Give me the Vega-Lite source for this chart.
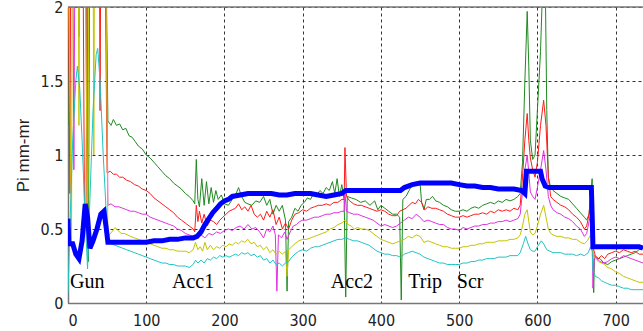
{
  "$schema": "https://vega.github.io/schema/vega-lite/v6.json",
  "width": 575,
  "height": 296,
  "autosize": {"type": "none"},
  "padding": {"left": 68, "top": 7, "right": 0, "bottom": 28},
  "background": "white",
  "config": {
    "view": {"stroke": null},
    "axis": {
      "labelFont": "Liberation Sans Narrow, DejaVu Sans Condensed, Liberation Sans, Arial",
      "labelFontSize": 16,
      "labelColor": "#222",
      "ticks": false,
      "domainColor": "#777",
      "domainWidth": 1.5,
      "gridColor": "#111",
      "gridDash": [3, 3],
      "gridWidth": 1,
      "gridOpacity": 0.85,
      "titleFont": "Liberation Sans, Arial",
      "titleFontWeight": "normal",
      "titleFontSize": 17,
      "titleColor": "#222"
    }
  },
  "datasets": {
    "green": [
      {"x":0,"y":1.2},{"x":0.8,"y":2.6},{"x":13,"y":2.6},{"x":14,"y":1.8},{"x":15,"y":2.6},{"x":23,"y":2.6},{"x":26,"y":0.28},{"x":28,"y":2.6},{"x":48,"y":2.6},{"x":51,"y":1.23},{"x":55,"y":1.2},{"x":58,"y":1.24},{"x":62,"y":1.2},{"x":66,"y":1.21},{"x":70,"y":1.17},{"x":74,"y":1.18},{"x":78,"y":1.13},{"x":82,"y":1.12},{"x":86,"y":1.09},{"x":90,"y":1.06},{"x":95,"y":1.04},{"x":100,"y":1.0},{"x":105,"y":0.98},{"x":110,"y":0.95},{"x":115,"y":0.92},{"x":120,"y":0.89},{"x":125,"y":0.86},{"x":130,"y":0.84},{"x":135,"y":0.81},{"x":140,"y":0.79},{"x":145,"y":0.77},{"x":150,"y":0.74},{"x":155,"y":0.72},{"x":160,"y":0.69},{"x":162,"y":0.67},{"x":164,"y":0.97},{"x":166,"y":0.7},{"x":168,"y":0.65},{"x":171,"y":0.84},{"x":174,"y":0.66},{"x":177,"y":0.82},{"x":180,"y":0.67},{"x":183,"y":0.78},{"x":186,"y":0.68},{"x":189,"y":0.76},{"x":192,"y":0.7},{"x":196,"y":0.73},{"x":200,"y":0.67},{"x":205,"y":0.66},{"x":210,"y":0.7},{"x":215,"y":0.74},{"x":218,"y":0.78},{"x":222,"y":0.72},{"x":226,"y":0.68},{"x":230,"y":0.67},{"x":235,"y":0.66},{"x":240,"y":0.69},{"x":245,"y":0.68},{"x":250,"y":0.72},{"x":254,"y":0.66},{"x":258,"y":0.7},{"x":262,"y":0.6},{"x":266,"y":0.66},{"x":270,"y":0.62},{"x":274,"y":0.66},{"x":278,"y":0.56},{"x":280,"y":0.08},{"x":282,"y":0.55},{"x":286,"y":0.58},{"x":290,"y":0.64},{"x":294,"y":0.62},{"x":298,"y":0.66},{"x":302,"y":0.68},{"x":306,"y":0.71},{"x":310,"y":0.7},{"x":314,"y":0.74},{"x":318,"y":0.73},{"x":322,"y":0.76},{"x":326,"y":0.74},{"x":330,"y":0.78},{"x":334,"y":0.76},{"x":338,"y":0.82},{"x":341,"y":0.74},{"x":344,"y":0.84},{"x":347,"y":0.72},{"x":350,"y":0.8},{"x":353,"y":0.7},{"x":355,"y":0.04},{"x":357,"y":0.72},{"x":362,"y":0.71},{"x":368,"y":0.7},{"x":374,"y":0.68},{"x":380,"y":0.69},{"x":386,"y":0.66},{"x":392,"y":0.69},{"x":396,"y":0.63},{"x":400,"y":0.66},{"x":405,"y":0.64},{"x":410,"y":0.62},{"x":415,"y":0.6},{"x":420,"y":0.6},{"x":424,"y":0.58},{"x":426,"y":0.02},{"x":428,"y":0.7},{"x":432,"y":0.72},{"x":436,"y":0.76},{"x":440,"y":0.8},{"x":446,"y":0.81},{"x":450,"y":0.81},{"x":452,"y":0.68},{"x":455,"y":0.63},{"x":458,"y":0.7},{"x":462,"y":0.7},{"x":466,"y":0.72},{"x":470,"y":0.69},{"x":475,"y":0.68},{"x":480,"y":0.66},{"x":485,"y":0.65},{"x":490,"y":0.63},{"x":495,"y":0.62},{"x":500,"y":0.62},{"x":505,"y":0.63},{"x":510,"y":0.62},{"x":515,"y":0.64},{"x":520,"y":0.65},{"x":525,"y":0.64},{"x":530,"y":0.66},{"x":535,"y":0.67},{"x":540,"y":0.68},{"x":545,"y":0.67},{"x":550,"y":0.69},{"x":555,"y":0.68},{"x":560,"y":0.7},{"x":565,"y":0.69},{"x":570,"y":0.7},{"x":575,"y":0.72},{"x":578,"y":0.74},{"x":581,"y":0.95},{"x":584,"y":1.5},{"x":587,"y":1.97},{"x":589,"y":1.6},{"x":591,"y":1.1},{"x":594,"y":0.97},{"x":597,"y":1.0},{"x":600,"y":1.3},{"x":604,"y":1.7},{"x":607,"y":2.2},{"x":610,"y":2.2},{"x":612,"y":1.3},{"x":614,"y":0.85},{"x":617,"y":0.78},{"x":620,"y":0.76},{"x":625,"y":0.74},{"x":630,"y":0.72},{"x":635,"y":0.71},{"x":640,"y":0.7},{"x":645,"y":0.67},{"x":650,"y":0.64},{"x":655,"y":0.61},{"x":660,"y":0.58},{"x":663,"y":0.56},{"x":666,"y":0.6},{"x":668,"y":0.72},{"x":670,"y":0.84},{"x":671,"y":0.3},{"x":672,"y":0.07},{"x":673,"y":0.32},{"x":676,"y":0.3},{"x":680,"y":0.3},{"x":685,"y":0.27},{"x":690,"y":0.26},{"x":695,"y":0.28},{"x":700,"y":0.29},{"x":705,"y":0.3},{"x":710,"y":0.31},{"x":715,"y":0.32},{"x":720,"y":0.33},{"x":725,"y":0.34},{"x":730,"y":0.36},{"x":735,"y":0.37}
    ],
    "red": [
      {"x":0,"y":2.6},{"x":2.5,"y":0.74},{"x":3.5,"y":2.6},{"x":19,"y":2.6},{"x":21,"y":0.66},{"x":23,"y":0.6},{"x":25,"y":2.6},{"x":40,"y":2.6},{"x":41,"y":1.3},{"x":42,"y":2.6},{"x":47,"y":2.6},{"x":50,"y":0.88},{"x":54,"y":0.89},{"x":58,"y":0.87},{"x":62,"y":0.87},{"x":66,"y":0.85},{"x":70,"y":0.85},{"x":75,"y":0.83},{"x":80,"y":0.82},{"x":85,"y":0.8},{"x":90,"y":0.79},{"x":95,"y":0.77},{"x":100,"y":0.76},{"x":105,"y":0.74},{"x":110,"y":0.71},{"x":115,"y":0.69},{"x":120,"y":0.67},{"x":125,"y":0.65},{"x":130,"y":0.63},{"x":135,"y":0.61},{"x":140,"y":0.58},{"x":145,"y":0.56},{"x":150,"y":0.54},{"x":155,"y":0.52},{"x":160,"y":0.5},{"x":162,"y":0.48},{"x":164,"y":0.66},{"x":166,"y":0.55},{"x":168,"y":0.62},{"x":171,"y":0.54},{"x":174,"y":0.6},{"x":178,"y":0.52},{"x":182,"y":0.56},{"x":186,"y":0.55},{"x":190,"y":0.53},{"x":194,"y":0.56},{"x":198,"y":0.58},{"x":202,"y":0.6},{"x":206,"y":0.62},{"x":210,"y":0.63},{"x":214,"y":0.64},{"x":218,"y":0.67},{"x":222,"y":0.63},{"x":226,"y":0.65},{"x":230,"y":0.62},{"x":234,"y":0.66},{"x":238,"y":0.6},{"x":242,"y":0.58},{"x":246,"y":0.6},{"x":250,"y":0.56},{"x":254,"y":0.62},{"x":258,"y":0.58},{"x":262,"y":0.63},{"x":266,"y":0.53},{"x":270,"y":0.58},{"x":274,"y":0.5},{"x":278,"y":0.54},{"x":282,"y":0.5},{"x":286,"y":0.56},{"x":290,"y":0.6},{"x":295,"y":0.61},{"x":300,"y":0.63},{"x":305,"y":0.62},{"x":310,"y":0.64},{"x":315,"y":0.65},{"x":320,"y":0.66},{"x":325,"y":0.66},{"x":330,"y":0.67},{"x":335,"y":0.66},{"x":340,"y":0.68},{"x":345,"y":0.68},{"x":350,"y":0.7},{"x":353,"y":0.7},{"x":354,"y":1.05},{"x":356,"y":0.72},{"x":360,"y":0.69},{"x":365,"y":0.67},{"x":370,"y":0.66},{"x":375,"y":0.66},{"x":380,"y":0.65},{"x":385,"y":0.64},{"x":390,"y":0.63},{"x":395,"y":0.62},{"x":400,"y":0.63},{"x":405,"y":0.62},{"x":410,"y":0.6},{"x":415,"y":0.59},{"x":420,"y":0.59},{"x":424,"y":0.62},{"x":428,"y":0.63},{"x":432,"y":0.64},{"x":436,"y":0.66},{"x":440,"y":0.68},{"x":444,"y":0.67},{"x":448,"y":0.7},{"x":452,"y":0.68},{"x":456,"y":0.63},{"x":460,"y":0.65},{"x":465,"y":0.64},{"x":470,"y":0.64},{"x":475,"y":0.63},{"x":480,"y":0.62},{"x":485,"y":0.6},{"x":490,"y":0.59},{"x":495,"y":0.58},{"x":500,"y":0.58},{"x":505,"y":0.59},{"x":510,"y":0.58},{"x":515,"y":0.59},{"x":520,"y":0.6},{"x":525,"y":0.6},{"x":530,"y":0.61},{"x":535,"y":0.6},{"x":540,"y":0.62},{"x":545,"y":0.61},{"x":550,"y":0.63},{"x":555,"y":0.62},{"x":560,"y":0.63},{"x":565,"y":0.62},{"x":570,"y":0.64},{"x":575,"y":0.63},{"x":578,"y":0.66},{"x":581,"y":0.85},{"x":584,"y":1.1},{"x":587,"y":1.28},{"x":589,"y":1.1},{"x":591,"y":0.98},{"x":594,"y":0.9},{"x":597,"y":0.85},{"x":600,"y":0.95},{"x":604,"y":1.2},{"x":608,"y":1.37},{"x":611,"y":1.2},{"x":614,"y":0.85},{"x":617,"y":0.72},{"x":620,"y":0.7},{"x":625,"y":0.68},{"x":630,"y":0.66},{"x":635,"y":0.65},{"x":640,"y":0.63},{"x":645,"y":0.6},{"x":650,"y":0.58},{"x":655,"y":0.55},{"x":660,"y":0.5},{"x":663,"y":0.52},{"x":666,"y":0.6},{"x":668,"y":0.72},{"x":670,"y":0.62},{"x":671,"y":0.38},{"x":674,"y":0.32},{"x":678,"y":0.3},{"x":682,"y":0.32},{"x":686,"y":0.3},{"x":690,"y":0.33},{"x":695,"y":0.34},{"x":700,"y":0.35},{"x":705,"y":0.34},{"x":710,"y":0.36},{"x":715,"y":0.35},{"x":720,"y":0.34},{"x":725,"y":0.35},{"x":730,"y":0.33},{"x":735,"y":0.33}
    ],
    "magenta": [
      {"x":0,"y":2.6},{"x":6,"y":2.6},{"x":7.5,"y":0.9},{"x":9,"y":2.6},{"x":22,"y":2.6},{"x":24,"y":1.1},{"x":26,"y":2.6},{"x":48,"y":2.6},{"x":51,"y":0.66},{"x":55,"y":0.67},{"x":60,"y":0.65},{"x":65,"y":0.65},{"x":70,"y":0.64},{"x":75,"y":0.63},{"x":80,"y":0.62},{"x":85,"y":0.62},{"x":90,"y":0.61},{"x":95,"y":0.6},{"x":100,"y":0.6},{"x":105,"y":0.58},{"x":110,"y":0.57},{"x":115,"y":0.56},{"x":120,"y":0.55},{"x":125,"y":0.54},{"x":130,"y":0.53},{"x":135,"y":0.52},{"x":140,"y":0.5},{"x":145,"y":0.49},{"x":150,"y":0.47},{"x":155,"y":0.46},{"x":160,"y":0.45},{"x":165,"y":0.44},{"x":170,"y":0.46},{"x":175,"y":0.44},{"x":180,"y":0.47},{"x":185,"y":0.46},{"x":190,"y":0.48},{"x":195,"y":0.47},{"x":200,"y":0.49},{"x":205,"y":0.5},{"x":210,"y":0.49},{"x":215,"y":0.51},{"x":220,"y":0.52},{"x":225,"y":0.5},{"x":230,"y":0.53},{"x":235,"y":0.5},{"x":240,"y":0.51},{"x":245,"y":0.48},{"x":250,"y":0.44},{"x":254,"y":0.5},{"x":258,"y":0.48},{"x":262,"y":0.52},{"x":265,"y":0.46},{"x":267,"y":0.08},{"x":269,"y":0.46},{"x":273,"y":0.44},{"x":277,"y":0.48},{"x":280,"y":0.43},{"x":284,"y":0.48},{"x":288,"y":0.52},{"x":292,"y":0.53},{"x":296,"y":0.55},{"x":300,"y":0.56},{"x":305,"y":0.56},{"x":310,"y":0.57},{"x":315,"y":0.58},{"x":320,"y":0.58},{"x":325,"y":0.59},{"x":330,"y":0.6},{"x":335,"y":0.6},{"x":340,"y":0.61},{"x":345,"y":0.61},{"x":350,"y":0.62},{"x":353,"y":0.62},{"x":354,"y":0.74},{"x":356,"y":0.62},{"x":360,"y":0.61},{"x":365,"y":0.6},{"x":370,"y":0.6},{"x":375,"y":0.59},{"x":380,"y":0.58},{"x":385,"y":0.57},{"x":390,"y":0.56},{"x":395,"y":0.54},{"x":400,"y":0.52},{"x":405,"y":0.53},{"x":410,"y":0.52},{"x":415,"y":0.51},{"x":420,"y":0.52},{"x":425,"y":0.54},{"x":430,"y":0.56},{"x":435,"y":0.58},{"x":440,"y":0.57},{"x":445,"y":0.6},{"x":450,"y":0.58},{"x":455,"y":0.55},{"x":460,"y":0.56},{"x":465,"y":0.55},{"x":470,"y":0.54},{"x":475,"y":0.53},{"x":480,"y":0.53},{"x":485,"y":0.51},{"x":490,"y":0.5},{"x":495,"y":0.5},{"x":500,"y":0.49},{"x":505,"y":0.51},{"x":510,"y":0.5},{"x":515,"y":0.51},{"x":520,"y":0.52},{"x":525,"y":0.52},{"x":530,"y":0.53},{"x":535,"y":0.53},{"x":540,"y":0.54},{"x":545,"y":0.54},{"x":550,"y":0.55},{"x":555,"y":0.55},{"x":560,"y":0.56},{"x":565,"y":0.55},{"x":570,"y":0.56},{"x":575,"y":0.57},{"x":578,"y":0.6},{"x":581,"y":0.75},{"x":584,"y":0.9},{"x":587,"y":1.0},{"x":589,"y":0.88},{"x":591,"y":0.75},{"x":594,"y":0.72},{"x":597,"y":0.7},{"x":600,"y":0.78},{"x":604,"y":0.9},{"x":608,"y":1.03},{"x":611,"y":0.9},{"x":614,"y":0.72},{"x":617,"y":0.66},{"x":620,"y":0.63},{"x":625,"y":0.61},{"x":630,"y":0.6},{"x":635,"y":0.58},{"x":640,"y":0.57},{"x":645,"y":0.55},{"x":650,"y":0.52},{"x":655,"y":0.5},{"x":660,"y":0.45},{"x":663,"y":0.47},{"x":666,"y":0.55},{"x":668,"y":0.6},{"x":670,"y":0.55},{"x":671,"y":0.1},{"x":673,"y":0.32},{"x":676,"y":0.3},{"x":680,"y":0.28},{"x":685,"y":0.27},{"x":690,"y":0.28},{"x":695,"y":0.3},{"x":700,"y":0.31},{"x":705,"y":0.3},{"x":710,"y":0.32},{"x":715,"y":0.31},{"x":720,"y":0.3},{"x":725,"y":0.29},{"x":730,"y":0.28},{"x":735,"y":0.27}
    ],
    "yellow": [
      {"x":0,"y":2.6},{"x":4.5,"y":0.4},{"x":5.5,"y":2.6},{"x":13,"y":2.6},{"x":14,"y":1.2},{"x":15,"y":2.6},{"x":22,"y":2.6},{"x":25,"y":0.3},{"x":27,"y":2.6},{"x":32,"y":2.6},{"x":33,"y":1.0},{"x":34,"y":2.6},{"x":48,"y":2.6},{"x":51,"y":0.45},{"x":56,"y":0.48},{"x":60,"y":0.51},{"x":64,"y":0.49},{"x":68,"y":0.47},{"x":72,"y":0.47},{"x":76,"y":0.46},{"x":80,"y":0.45},{"x":85,"y":0.44},{"x":90,"y":0.43},{"x":95,"y":0.42},{"x":100,"y":0.41},{"x":105,"y":0.4},{"x":110,"y":0.39},{"x":115,"y":0.38},{"x":120,"y":0.37},{"x":125,"y":0.37},{"x":130,"y":0.36},{"x":135,"y":0.36},{"x":140,"y":0.35},{"x":145,"y":0.35},{"x":150,"y":0.35},{"x":155,"y":0.34},{"x":160,"y":0.36},{"x":163,"y":0.41},{"x":166,"y":0.36},{"x":169,"y":0.38},{"x":172,"y":0.35},{"x":175,"y":0.41},{"x":178,"y":0.36},{"x":182,"y":0.39},{"x":186,"y":0.36},{"x":190,"y":0.38},{"x":194,"y":0.37},{"x":198,"y":0.39},{"x":202,"y":0.38},{"x":206,"y":0.4},{"x":210,"y":0.39},{"x":214,"y":0.41},{"x":218,"y":0.4},{"x":222,"y":0.42},{"x":226,"y":0.41},{"x":230,"y":0.43},{"x":234,"y":0.4},{"x":238,"y":0.41},{"x":242,"y":0.38},{"x":246,"y":0.39},{"x":250,"y":0.36},{"x":254,"y":0.38},{"x":258,"y":0.34},{"x":262,"y":0.36},{"x":266,"y":0.33},{"x":270,"y":0.35},{"x":274,"y":0.33},{"x":278,"y":0.35},{"x":280,"y":0.18},{"x":282,"y":0.36},{"x":286,"y":0.38},{"x":290,"y":0.4},{"x":295,"y":0.42},{"x":300,"y":0.43},{"x":305,"y":0.43},{"x":310,"y":0.44},{"x":315,"y":0.45},{"x":320,"y":0.46},{"x":325,"y":0.47},{"x":330,"y":0.48},{"x":335,"y":0.5},{"x":340,"y":0.51},{"x":345,"y":0.53},{"x":350,"y":0.54},{"x":354,"y":0.56},{"x":358,"y":0.53},{"x":362,"y":0.52},{"x":366,"y":0.5},{"x":370,"y":0.51},{"x":375,"y":0.5},{"x":380,"y":0.5},{"x":385,"y":0.49},{"x":390,"y":0.47},{"x":395,"y":0.45},{"x":400,"y":0.43},{"x":405,"y":0.42},{"x":410,"y":0.41},{"x":415,"y":0.4},{"x":420,"y":0.41},{"x":425,"y":0.42},{"x":430,"y":0.43},{"x":435,"y":0.45},{"x":440,"y":0.44},{"x":445,"y":0.46},{"x":450,"y":0.45},{"x":455,"y":0.41},{"x":460,"y":0.42},{"x":465,"y":0.41},{"x":470,"y":0.4},{"x":475,"y":0.39},{"x":480,"y":0.38},{"x":485,"y":0.38},{"x":490,"y":0.37},{"x":495,"y":0.37},{"x":500,"y":0.37},{"x":505,"y":0.38},{"x":510,"y":0.38},{"x":515,"y":0.39},{"x":520,"y":0.39},{"x":525,"y":0.4},{"x":530,"y":0.4},{"x":535,"y":0.41},{"x":540,"y":0.41},{"x":545,"y":0.41},{"x":550,"y":0.42},{"x":555,"y":0.42},{"x":560,"y":0.42},{"x":565,"y":0.43},{"x":570,"y":0.43},{"x":575,"y":0.44},{"x":578,"y":0.46},{"x":581,"y":0.52},{"x":584,"y":0.6},{"x":587,"y":0.63},{"x":589,"y":0.55},{"x":591,"y":0.48},{"x":594,"y":0.46},{"x":597,"y":0.47},{"x":600,"y":0.52},{"x":604,"y":0.6},{"x":608,"y":0.66},{"x":611,"y":0.58},{"x":614,"y":0.5},{"x":617,"y":0.47},{"x":620,"y":0.46},{"x":625,"y":0.45},{"x":630,"y":0.45},{"x":635,"y":0.44},{"x":640,"y":0.44},{"x":645,"y":0.43},{"x":650,"y":0.43},{"x":655,"y":0.41},{"x":660,"y":0.4},{"x":664,"y":0.42},{"x":668,"y":0.46},{"x":670,"y":0.4},{"x":671,"y":0.33},{"x":674,"y":0.3},{"x":678,"y":0.28},{"x":682,"y":0.27},{"x":686,"y":0.26},{"x":690,"y":0.24},{"x":695,"y":0.23},{"x":700,"y":0.21},{"x":705,"y":0.2},{"x":710,"y":0.18},{"x":715,"y":0.17},{"x":720,"y":0.16},{"x":725,"y":0.15},{"x":730,"y":0.14},{"x":735,"y":0.14}
    ],
    "cyan": [
      {"x":0,"y":0.07},{"x":3,"y":0.6},{"x":6,"y":1.1},{"x":10,"y":1.5},{"x":12,"y":1.6},{"x":15,"y":1.45},{"x":18,"y":1.1},{"x":21,"y":0.7},{"x":25,"y":0.23},{"x":28,"y":0.7},{"x":32,"y":1.3},{"x":36,"y":1.68},{"x":38,"y":1.72},{"x":41,"y":1.5},{"x":45,"y":1.0},{"x":49,"y":0.6},{"x":51,"y":0.41},{"x":55,"y":0.4},{"x":60,"y":0.39},{"x":65,"y":0.38},{"x":70,"y":0.37},{"x":75,"y":0.36},{"x":80,"y":0.35},{"x":85,"y":0.34},{"x":90,"y":0.33},{"x":95,"y":0.32},{"x":100,"y":0.31},{"x":105,"y":0.3},{"x":110,"y":0.29},{"x":115,"y":0.28},{"x":120,"y":0.27},{"x":125,"y":0.27},{"x":130,"y":0.26},{"x":135,"y":0.26},{"x":140,"y":0.25},{"x":145,"y":0.25},{"x":150,"y":0.25},{"x":155,"y":0.24},{"x":160,"y":0.26},{"x":163,"y":0.29},{"x":166,"y":0.27},{"x":170,"y":0.29},{"x":174,"y":0.27},{"x":178,"y":0.3},{"x":182,"y":0.29},{"x":186,"y":0.31},{"x":190,"y":0.3},{"x":194,"y":0.32},{"x":198,"y":0.31},{"x":202,"y":0.32},{"x":206,"y":0.31},{"x":210,"y":0.32},{"x":214,"y":0.33},{"x":218,"y":0.32},{"x":222,"y":0.34},{"x":226,"y":0.33},{"x":230,"y":0.34},{"x":234,"y":0.32},{"x":238,"y":0.33},{"x":242,"y":0.31},{"x":246,"y":0.32},{"x":250,"y":0.29},{"x":254,"y":0.3},{"x":258,"y":0.27},{"x":262,"y":0.29},{"x":266,"y":0.26},{"x":270,"y":0.27},{"x":274,"y":0.25},{"x":278,"y":0.27},{"x":282,"y":0.28},{"x":286,"y":0.31},{"x":290,"y":0.33},{"x":295,"y":0.35},{"x":300,"y":0.36},{"x":305,"y":0.35},{"x":310,"y":0.37},{"x":315,"y":0.38},{"x":320,"y":0.38},{"x":325,"y":0.39},{"x":330,"y":0.4},{"x":335,"y":0.41},{"x":340,"y":0.42},{"x":345,"y":0.43},{"x":350,"y":0.43},{"x":355,"y":0.44},{"x":360,"y":0.43},{"x":365,"y":0.42},{"x":370,"y":0.42},{"x":375,"y":0.41},{"x":380,"y":0.4},{"x":385,"y":0.39},{"x":390,"y":0.37},{"x":395,"y":0.35},{"x":400,"y":0.34},{"x":405,"y":0.33},{"x":410,"y":0.33},{"x":415,"y":0.32},{"x":420,"y":0.32},{"x":425,"y":0.31},{"x":430,"y":0.33},{"x":435,"y":0.34},{"x":440,"y":0.35},{"x":445,"y":0.34},{"x":450,"y":0.33},{"x":455,"y":0.31},{"x":460,"y":0.3},{"x":465,"y":0.29},{"x":470,"y":0.28},{"x":475,"y":0.27},{"x":480,"y":0.27},{"x":485,"y":0.26},{"x":490,"y":0.26},{"x":495,"y":0.26},{"x":500,"y":0.26},{"x":505,"y":0.27},{"x":510,"y":0.27},{"x":515,"y":0.28},{"x":520,"y":0.28},{"x":525,"y":0.29},{"x":530,"y":0.29},{"x":535,"y":0.3},{"x":540,"y":0.3},{"x":545,"y":0.3},{"x":550,"y":0.31},{"x":555,"y":0.31},{"x":560,"y":0.31},{"x":565,"y":0.32},{"x":570,"y":0.32},{"x":575,"y":0.32},{"x":578,"y":0.34},{"x":582,"y":0.4},{"x":585,"y":0.45},{"x":588,"y":0.4},{"x":591,"y":0.36},{"x":594,"y":0.35},{"x":597,"y":0.35},{"x":600,"y":0.38},{"x":605,"y":0.42},{"x":608,"y":0.4},{"x":612,"y":0.36},{"x":616,"y":0.35},{"x":620,"y":0.34},{"x":625,"y":0.34},{"x":630,"y":0.34},{"x":635,"y":0.33},{"x":640,"y":0.33},{"x":645,"y":0.33},{"x":650,"y":0.32},{"x":655,"y":0.33},{"x":660,"y":0.32},{"x":665,"y":0.34},{"x":668,"y":0.38},{"x":670,"y":0.35},{"x":671,"y":0.22},{"x":674,"y":0.18},{"x":678,"y":0.17},{"x":682,"y":0.15},{"x":686,"y":0.14},{"x":690,"y":0.13},{"x":695,"y":0.12},{"x":700,"y":0.12},{"x":705,"y":0.11},{"x":710,"y":0.1},{"x":715,"y":0.1},{"x":720,"y":0.09},{"x":725,"y":0.09},{"x":730,"y":0.09},{"x":735,"y":0.09}
    ],
    "blue": [
      {"x":0,"y":0.57},{"x":1,"y":0.4},{"x":6,"y":0.4},{"x":10,"y":0.33},{"x":14,"y":0.3},{"x":18,"y":0.42},{"x":22,"y":0.67},{"x":25,"y":0.58},{"x":28,"y":0.37},{"x":32,"y":0.42},{"x":37,"y":0.5},{"x":42,"y":0.6},{"x":46,"y":0.62},{"x":49,"y":0.5},{"x":51,"y":0.41},{"x":60,"y":0.41},{"x":70,"y":0.41},{"x":80,"y":0.41},{"x":90,"y":0.41},{"x":100,"y":0.41},{"x":110,"y":0.42},{"x":120,"y":0.42},{"x":130,"y":0.43},{"x":140,"y":0.43},{"x":150,"y":0.44},{"x":160,"y":0.44},{"x":165,"y":0.45},{"x":170,"y":0.48},{"x":175,"y":0.53},{"x":180,"y":0.57},{"x":185,"y":0.61},{"x":190,"y":0.64},{"x":195,"y":0.67},{"x":200,"y":0.69},{"x":205,"y":0.7},{"x":210,"y":0.72},{"x":220,"y":0.73},{"x":230,"y":0.74},{"x":240,"y":0.74},{"x":250,"y":0.74},{"x":260,"y":0.74},{"x":270,"y":0.73},{"x":280,"y":0.73},{"x":290,"y":0.74},{"x":300,"y":0.74},{"x":310,"y":0.74},{"x":320,"y":0.73},{"x":330,"y":0.72},{"x":340,"y":0.73},{"x":350,"y":0.74},{"x":355,"y":0.76},{"x":360,"y":0.76},{"x":380,"y":0.76},{"x":400,"y":0.76},{"x":420,"y":0.76},{"x":425,"y":0.76},{"x":430,"y":0.78},{"x":440,"y":0.8},{"x":450,"y":0.81},{"x":460,"y":0.81},{"x":470,"y":0.81},{"x":480,"y":0.81},{"x":490,"y":0.81},{"x":500,"y":0.8},{"x":510,"y":0.79},{"x":520,"y":0.79},{"x":530,"y":0.78},{"x":540,"y":0.78},{"x":550,"y":0.77},{"x":560,"y":0.77},{"x":570,"y":0.77},{"x":580,"y":0.76},{"x":584,"y":0.74},{"x":586,"y":0.89},{"x":595,"y":0.89},{"x":604,"y":0.89},{"x":606,"y":0.84},{"x":610,"y":0.79},{"x":615,"y":0.78},{"x":630,"y":0.78},{"x":650,"y":0.78},{"x":669,"y":0.78},{"x":670,"y":0.6},{"x":671,"y":0.38},{"x":690,"y":0.38},{"x":710,"y":0.38},{"x":730,"y":0.38},{"x":735,"y":0.37}
    ],
    "stages": [
      {"x":2.5,"y":0.1,"name":"Gun"},
      {"x":133,"y":0.1,"name":"Acc1"},
      {"x":336,"y":0.1,"name":"Acc2"},
      {"x":435,"y":0.1,"name":"Trip"},
      {"x":497,"y":0.1,"name":"Scr"}
    ]
  },
  "layer": [
    {
      "data": {"name": "green"},
      "mark": {"type": "line", "color": "#1f8a1f", "strokeWidth": 1, "clip": true},
      "encoding": {
        "x": {
          "field": "x", "type": "quantitative",
          "scale": {"domain": [0, 735], "nice": false, "zero": false},
          "axis": {"values": [0, 100, 200, 300, 400, 500, 600, 700], "title": null, "labelPadding": 9, "grid": true}
        },
        "y": {
          "field": "y", "type": "quantitative",
          "scale": {"domain": [0, 2], "nice": false},
          "axis": {"values": [0, 0.5, 1, 1.5, 2], "labelExpr": "datum.value + ''", "title": "Pi mm-mr", "labelPadding": 5, "titlePadding": 8, "grid": true}
        }
      }
    },
    {
      "data": {"name": "red"},
      "mark": {"type": "line", "color": "#ff1a1a", "strokeWidth": 1, "clip": true},
      "encoding": {"x": {"field": "x", "type": "quantitative"}, "y": {"field": "y", "type": "quantitative"}}
    },
    {
      "data": {"name": "magenta"},
      "mark": {"type": "line", "color": "#e030e0", "strokeWidth": 1, "clip": true},
      "encoding": {"x": {"field": "x", "type": "quantitative"}, "y": {"field": "y", "type": "quantitative"}}
    },
    {
      "data": {"name": "yellow"},
      "mark": {"type": "line", "color": "#c4c400", "strokeWidth": 1, "clip": true},
      "encoding": {"x": {"field": "x", "type": "quantitative"}, "y": {"field": "y", "type": "quantitative"}}
    },
    {
      "data": {"name": "cyan"},
      "mark": {"type": "line", "color": "#20c4c4", "strokeWidth": 1, "clip": true},
      "encoding": {"x": {"field": "x", "type": "quantitative"}, "y": {"field": "y", "type": "quantitative"}}
    },
    {
      "data": {"name": "blue"},
      "mark": {"type": "line", "color": "#0000ff", "strokeWidth": 5, "clip": true},
      "encoding": {"x": {"field": "x", "type": "quantitative"}, "y": {"field": "y", "type": "quantitative"}}
    },
    {
      "data": {"name": "stages"},
      "mark": {"type": "text", "font": "Liberation Serif, Times New Roman, serif", "fontSize": 20, "align": "left", "baseline": "alphabetic", "color": "#000"},
      "encoding": {"x": {"field": "x", "type": "quantitative"}, "y": {"field": "y", "type": "quantitative"}, "text": {"field": "name"}}
    },
    {
      "data": {"values": [{}]},
      "mark": {"type": "rule", "color": "#777", "strokeWidth": 1.5},
      "encoding": {"y": {"datum": 2}}
    }
  ]
}
